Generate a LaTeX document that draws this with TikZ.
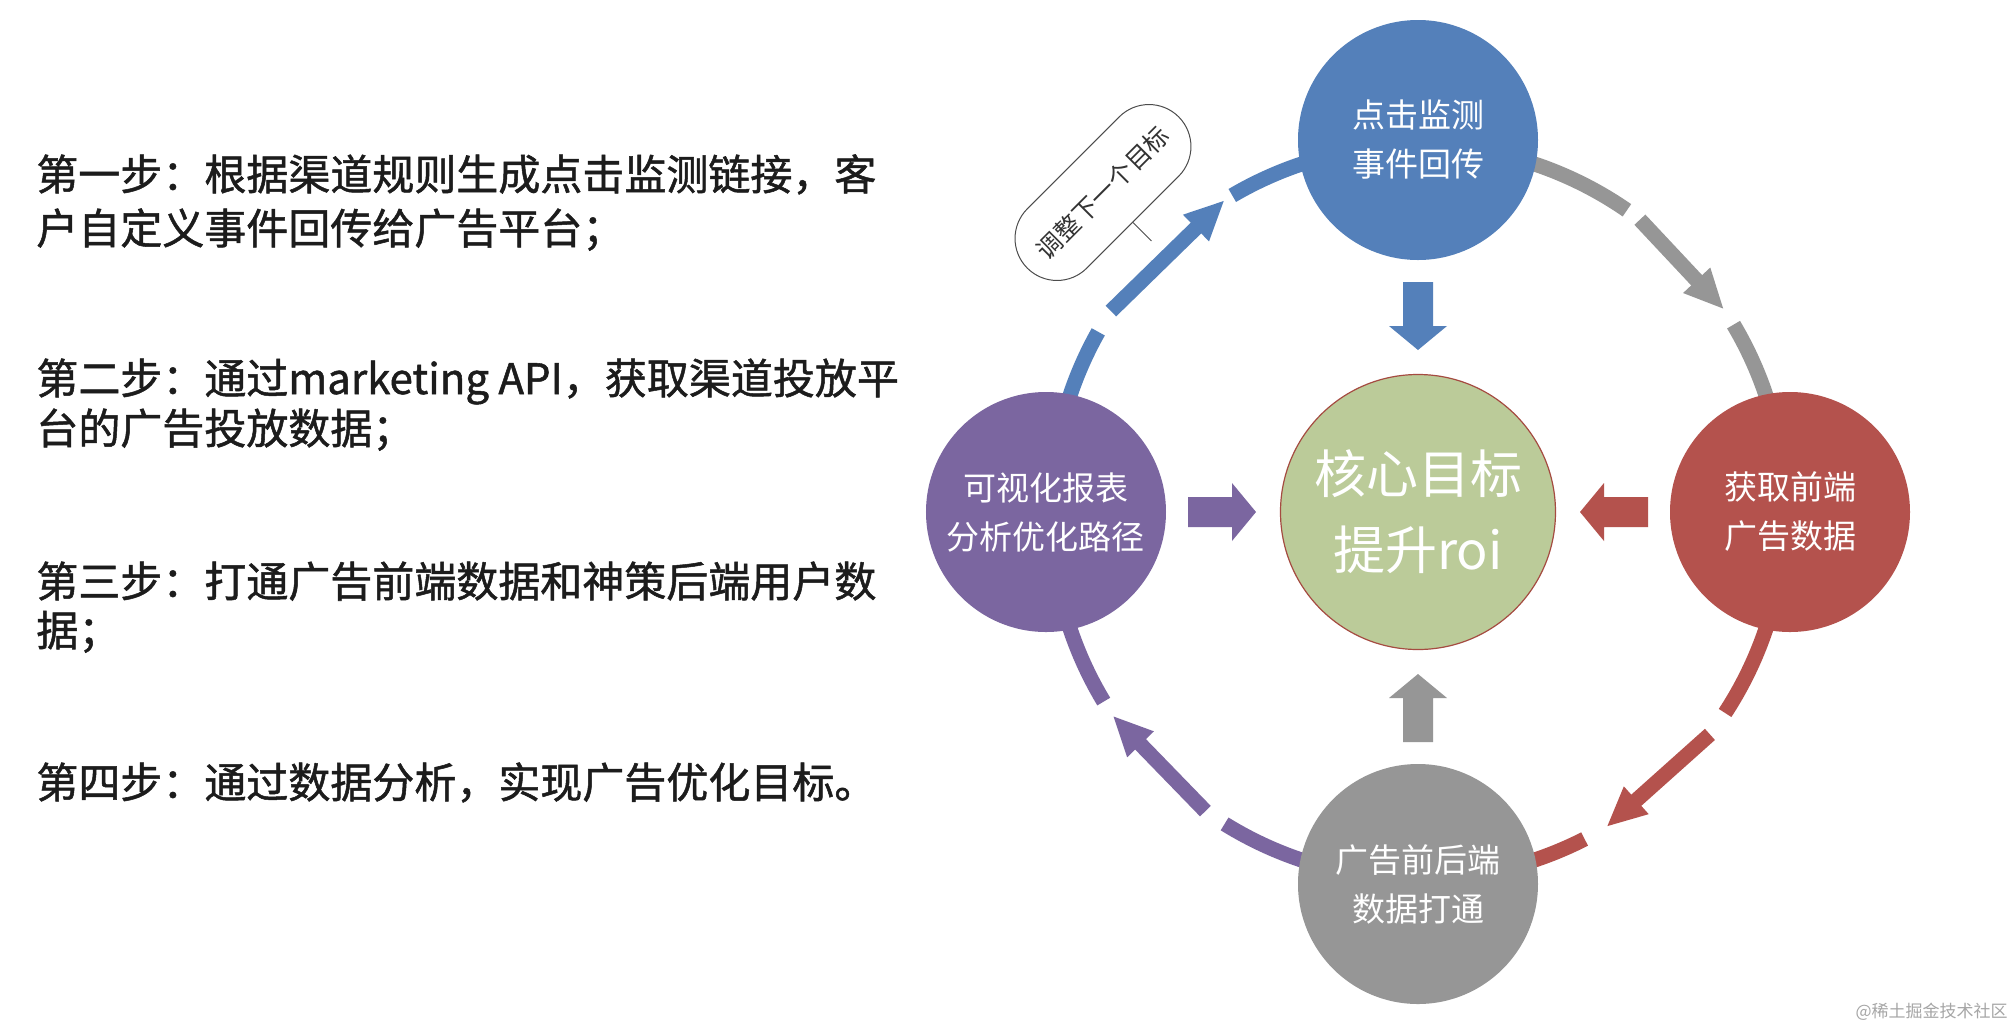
\documentclass[tikz,border=0pt]{standalone}
\usepackage{fontspec}
\setmainfont{Noto Sans CJK SC}
\newfontfamily\stepfont{Noto Sans CJK SC}[FakeBold=1.2]
\usetikzlibrary{arrows.meta,shapes.misc}
\definecolor{blueC}{RGB}{84,128,186}
\definecolor{redC}{RGB}{180,82,77}
\definecolor{grayC}{RGB}{150,150,150}
\definecolor{purpleC}{RGB}{123,102,160}
\definecolor{greenC}{RGB}{187,203,153}
\definecolor{borderC}{RGB}{165,75,65}
\definecolor{textC}{RGB}{28,28,28}
\begin{document}
\begin{tikzpicture}[x=0.5pt,y=0.5pt,
  stepline/.style={anchor=base west, inner sep=0, font=\fontsize{21pt}{27pt}\stepfont, text=textC},
  circ/.style={circle, minimum size=120pt, inner sep=0, text=white, align=center, font=\fontsize{16.5pt}{24.5pt}\selectfont},
  ring/.style={line width=7.5pt},
  ringarrow/.style={line width=7.5pt, -{Triangle[length=20pt,width=17pt]}},
]
\fill[white] (-1418,-518) rectangle (598,512);
\useasboundingbox (-1418,-518) rectangle (598,512);

% left text
\node[stepline] (s1a) at (-1382,322) {第一步：根据渠道规则生成点击监测链接，客};
\node[stepline] (s1b) at (-1382,268) {户自定义事件回传给广告平台；};
\node[stepline] (s2a) at (-1382,118) {第二步：通过marketing API，获取渠道投放平};
\node[stepline] (s2b) at (-1382,68) {台的广告投放数据；};
\node[stepline] (s3a) at (-1382,-85) {第三步：打通广告前端数据和神策后端用户数};
\node[stepline] (s3b) at (-1382,-134) {据；};
\node[stepline] (s4a) at (-1382,-286) {第四步：通过数据分析，实现广告优化目标。};

% ring
\def\R{367}
\draw[ring, grayC] (80:\R) arc[start angle=80, end angle=55.3, radius=183.5pt];
\draw[ringarrow, grayC] (52.8:\R) -- (33.5:\R);
\draw[ring, grayC] (30.7:\R) arc[start angle=30.7, end angle=10, radius=183.5pt];

\draw[ring, redC] (-10:\R) arc[start angle=-10, end angle=-33.2, radius=183.5pt];
\draw[ringarrow, redC] (-37.3:\R) -- (-59.1:\R);
\draw[ring, redC] (-63:\R) arc[start angle=-63, end angle=-80, radius=183.5pt];

\draw[ring, purpleC] (260:\R) arc[start angle=260, end angle=238.2, radius=183.5pt];
\draw[ringarrow, purpleC] (234.6:\R) -- (213.7:\R);
\draw[ring, purpleC] (211.1:\R) arc[start angle=211.1, end angle=190, radius=183.5pt];

\draw[ring, blueC] (170:\R) arc[start angle=170, end angle=150.6, radius=183.5pt];
\draw[ringarrow, blueC] (146.8:\R) -- (121.8:\R);
\draw[ring, blueC] (120.4:\R) arc[start angle=120.4, end angle=100, radius=183.5pt];

% circles
\node[circ, fill=blueC] (top) at (90:372) {点击监测\\事件回传};
\node[circ, fill=redC] (right) at (0:372) {获取前端\\广告数据};
\node[circ, fill=grayC] (bottom) at (270:372) {广告前后端\\数据打通};
\node[circ, fill=purpleC] (left) at (180:372) {可视化报表\\分析优化路径};
\node[circle, minimum size=137.5pt, inner sep=0, fill=greenC, draw=borderC, line width=0.6pt,
      text=white, align=center, font=\fontsize{26pt}{38pt}\selectfont] (core) at (0,0) {核心目标\\提升roi};

% block arrows toward the core
\foreach \a/\c in {90/blueC, 0/redC, 270/grayC, 180/purpleC}{
  \fill[\c, rotate=\a] (230,15) -- (186,15) -- (186,29) -- (162,0) -- (186,-29) -- (186,-15) -- (230,-15) -- cycle;
}

% callout
\node[rounded rectangle, draw=black!70, line width=0.5pt, fill=white, minimum width=107pt,
      minimum height=42pt, rotate=45, inner sep=0, text=black!80,
      font=\fontsize{12.5pt}{14pt}\selectfont] (tip) at (-315,319.5) {调整下一个目标};
\draw[black!70, line width=0.5pt] (tip.south) -- ++(-45:26);

% watermark
\node[anchor=east, inner sep=0, text=black!35, font=\fontsize{8.5pt}{10pt}\selectfont] (wm) at (590,-500) {@稀土掘金技术社区};
\end{tikzpicture}
\end{document}
